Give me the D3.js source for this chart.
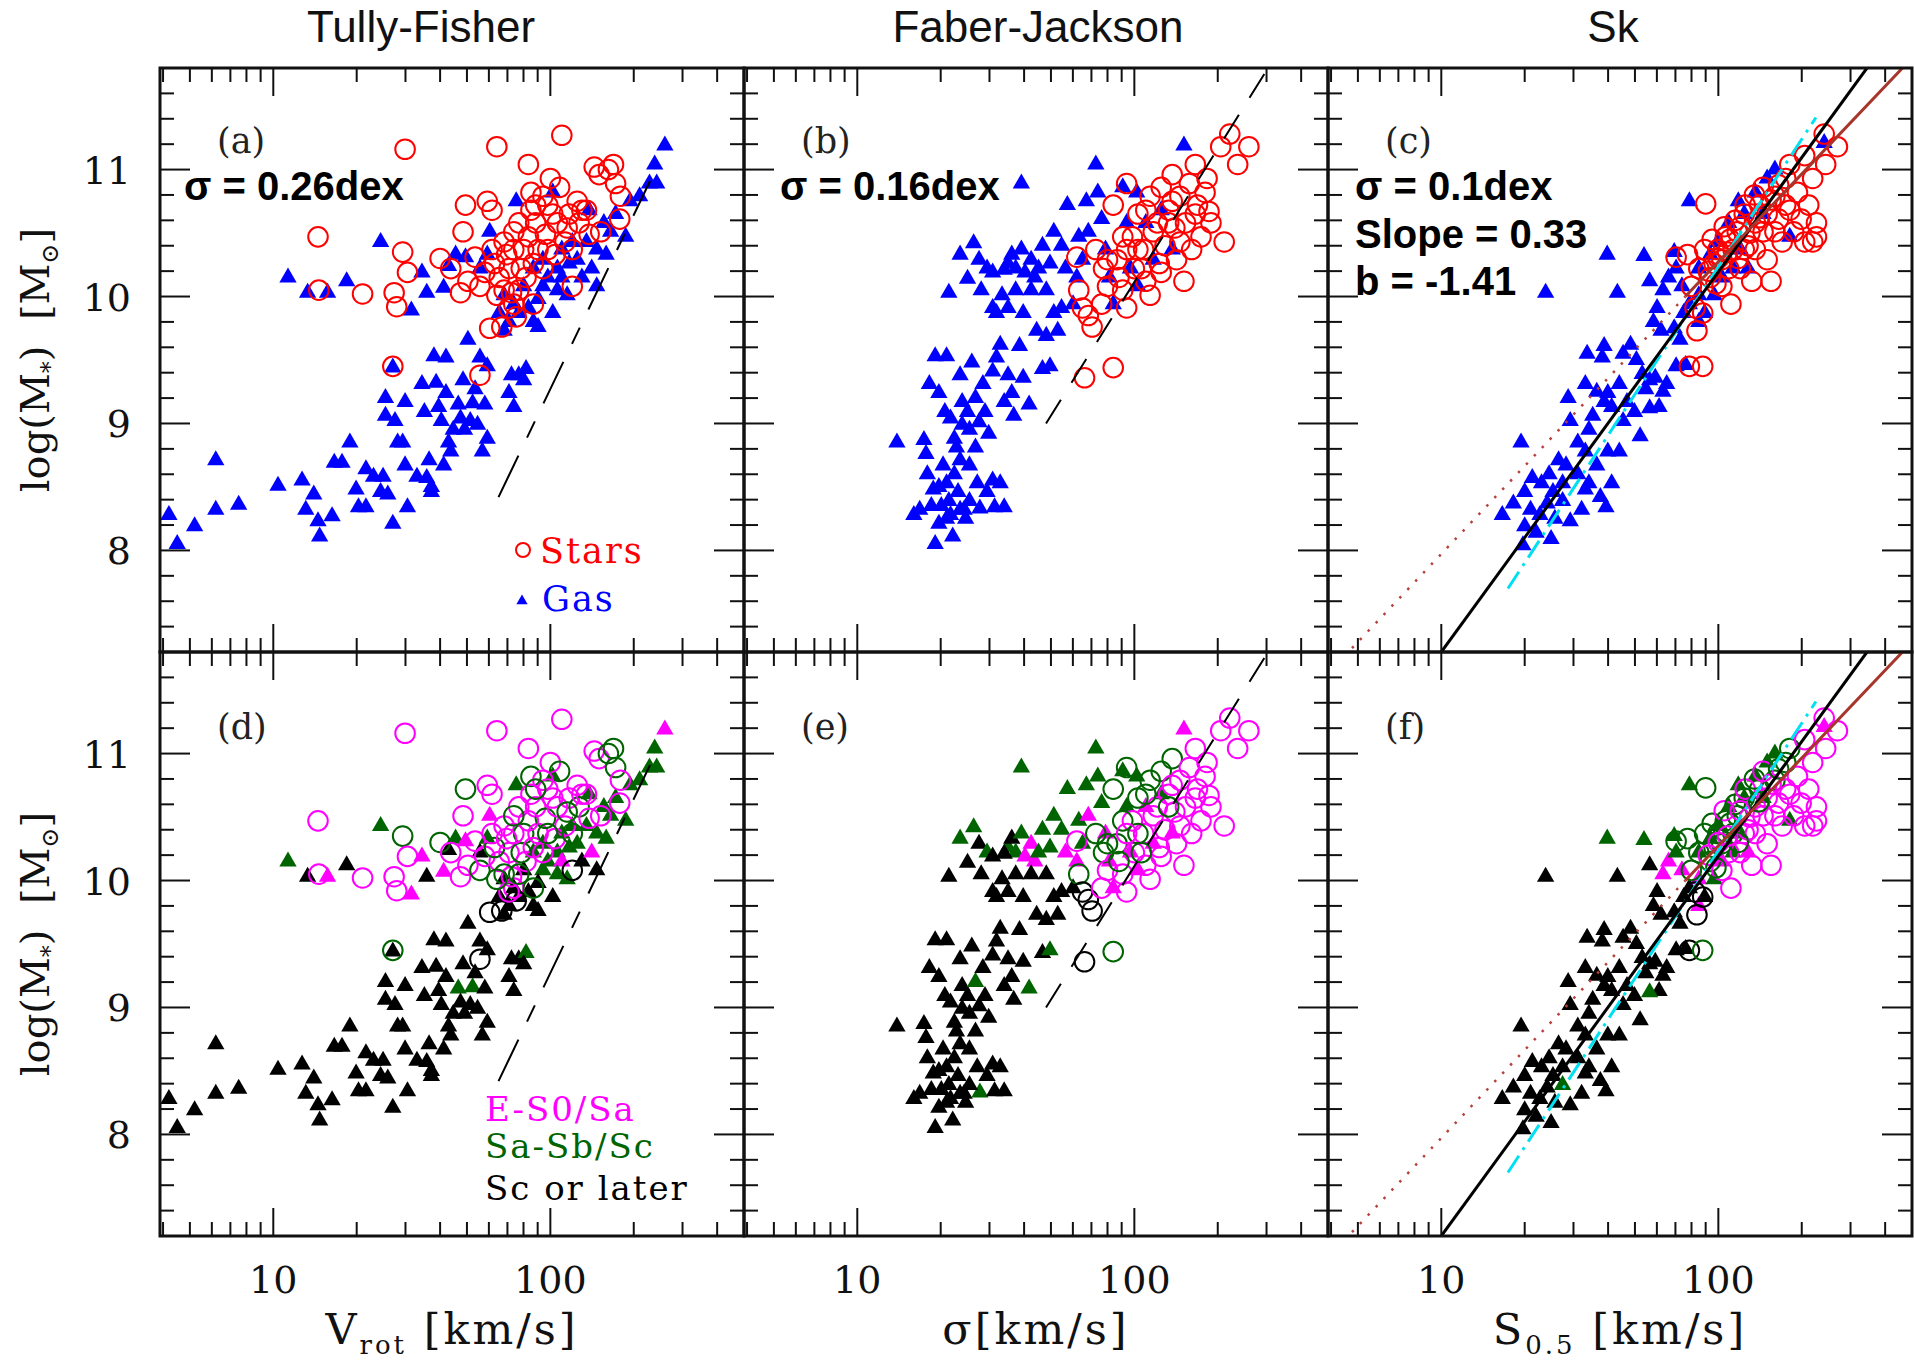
<!DOCTYPE html>
<html>
<head>
<meta charset="utf-8" />
<title>Tully-Fisher, Faber-Jackson, Sk</title>
<script src="https://d3js.org/d3.v7.min.js"></script>
<style>
  body { margin: 0; background: white; }
</style>
</head>
<body>
<svg id="chart" width="1914" height="1366"></svg>
<script>

var columnTitles = ["Tully-Fisher", "Faber-Jackson", "Sk"];
var panelLetters = [["(a)", "(b)", "(c)"], ["(d)", "(e)", "(f)"]];
var yTickLabels = [8, 9, 10, 11];
var xTickLabels = [10, 100];
var statLines = [["σ = 0.26dex"], ["σ = 0.16dex"], ["σ = 0.1dex", "Slope = 0.33", "b = -1.41"]];
var seriesNames = ["Stars", "Gas"];
var typeCodes = ["E", "S", "L"];
var typeNames = ["E-S0/Sa", "Sa-Sb/Sc", "Sc or later"];

// [velocity km/s, log M*, morphological type]
var tfGas = [
  [4.2,8.28,"L"],[4.5,8.05,"L"],[5.2,8.19,"L"],[6.2,8.71,"L"],[6.2,8.32,"L"],[7.5,8.36,"L"],[10.4,8.51,"L"],
  [12.7,8.55,"L"],[13.1,8.32,"L"],[14.0,8.44,"L"],[14.5,8.23,"L"],[14.7,8.11,"L"],[16.3,8.27,"L"],[16.6,8.69,"L"],
  [17.7,8.69,"L"],[18.9,8.85,"L"],[19.9,8.48,"L"],[20.3,8.34,"L"],[21.6,8.34,"L"],[21.6,8.64,"L"],[23.0,8.58,"L"],
  [24.4,8.46,"L"],[24.9,8.58,"L"],[25.9,8.44,"L"],[27.0,8.21,"L"],[25.4,9.20,"L"],[25.4,9.06,"L"],[27.5,9.02,"L"],
  [28.1,8.85,"L"],[29.3,8.85,"L"],[29.9,8.67,"L"],[30.5,8.34,"L"],[29.9,9.17,"L"],[33.0,8.58,"L"],[34.4,9.31,"L"],
  [35.1,9.09,"L"],[35.8,8.57,"L"],[36.5,8.71,"L"],[37.2,8.50,"L"],[37.2,8.46,"L"],[38.0,9.53,"L"],[38.7,9.32,"L"],
  [39.5,9.13,"L"],[40.4,9.02,"L"],[41.2,8.67,"L"],[42.0,9.52,"L"],[42.0,9.24,"L"],[42.9,8.85,"L"],[43.7,8.78,"L"],
  [44.6,8.95,"L"],[46.5,9.15,"S"],[47.4,9.04,"L"],[48.4,9.34,"L"],[49.0,8.95,"L"],[50.4,9.66,"L"],[51.4,9.02,"L"],
  [52.4,9.16,"S"],[53.5,9.27,"L"],[54.6,8.99,"L"],[55.7,9.52,"L"],[56.8,8.78,"L"],[58.0,9.15,"L"],[59.2,8.88,"L"],
  [59.2,9.45,"L"],[70.9,9.24,"L"],[72.4,9.38,"L"],[73.8,9.13,"L"],[76.9,9.38,"L"],[81.7,9.43,"S"],[80.1,9.34,"L"],
  [27.0,9.44,"L"],
  [11.3,10.15,"S"],[13.3,10.03,"L"],[15.7,10.03,"E"],[18.4,10.12,"L"],[24.4,10.43,"S"],[31.5,9.89,"E"],[35.8,10.03,"L"],
  [34.4,10.19,"E"],[41.2,10.07,"E"],[42.9,10.24,"L"],[45.5,10.33,"S"],[49.4,10.31,"E"],[55.7,10.22,"L"],[60.4,10.51,"E"],
  [59.2,10.33,"S"],[65.4,9.87,"L"],[68.1,9.73,"L"],[70.9,9.80,"L"],[75.3,10.75,"S"],[76.9,9.87,"L"],[83.3,9.91,"L"],
  [86.8,9.80,"L"],[90.3,9.76,"L"],[94.0,10.08,"S"],[97.9,10.15,"S"],[102,10.82,"S"],[102,9.87,"L"],[106,10.22,"S"],
  [110,10.15,"E"],[115,10.01,"S"],[117,10.26,"S"],[125,10.29,"S"],[130,10.15,"L"],[135,10.43,"S"],[138,10.68,"S"],
  [141,10.22,"E"],[147,10.08,"L"],[156,10.58,"S"],[159,10.33,"S"],[165,10.51,"S"],[172,10.65,"S"],[187,10.47,"S"],
  [194,10.75,"S"],[210,10.79,"S"],[228,10.89,"S"],[238,11.04,"S"],[242,10.89,"S"],[259,11.19,"E"],[86.8,10.22,"S"],
  [94.0,10.29,"S"],[80.1,10.08,"L"],[110,10.37,"S"],[120,10.43,"S"],[147,10.37,"S"],[68.1,10.01,"L"],[73.8,9.94,"L"],
  [90.3,9.98,"L"],[106,10.05,"S"]
];

var tfStars = [
  [14.5,10.47,"E"],[14.6,10.05,"E"],[21.0,10.02,"E"],[27.3,10.03,"E"],[27.9,9.92,"E"],[29.3,10.35,"S"],[30.5,10.19,"E"],
  [29.9,11.16,"E"],[27.0,9.45,"S"],[55.7,9.38,"L"],[40.0,10.30,"S"],[43.7,10.22,"E"],[48.4,10.51,"E"],[49.4,10.72,"S"],
  [47.4,10.03,"E"],[50.4,10.12,"E"],[53.5,10.31,"E"],[55.7,10.08,"S"],[59.2,10.75,"E"],[61.6,10.68,"E"],[64.1,11.18,"E"],
  [60.4,9.75,"L"],[66.8,9.76,"L"],[68.1,10.43,"E"],[70.9,10.22,"E"],[72.4,10.03,"E"],[73.8,9.94,"E"],[75.3,9.84,"L"],
  [76.9,10.58,"E"],[80.1,10.37,"S"],[81.7,10.15,"E"],[83.3,11.04,"E"],[85.1,10.82,"S"],[86.8,9.94,"S"],[88.5,10.58,"E"],
  [90.3,10.37,"E"],[94.0,10.22,"E"],[96.0,10.49,"S"],[97.9,10.72,"E"],[100,10.93,"E"],[104,10.33,"E"],[106,10.58,"E"],
  [108,10.86,"S"],[110,11.27,"E"],[113,10.43,"E"],[117,10.65,"E"],[120,10.08,"L"],[120,10.37,"S"],[125,10.75,"E"],
  [127,10.58,"S"],[130,10.68,"E"],[135,10.68,"E"],[138,10.49,"E"],[144,11.02,"E"],[150,10.96,"E"],[152,10.51,"E"],
  [162,11.00,"S"],[169,11.04,"S"],[172,10.89,"S"],[178,10.61,"E"],[179,10.79,"E"],[65.4,10.15,"E"],[58.0,10.19,"E"],
  [62.9,10.26,"S"],[69.5,10.33,"E"],[78.5,10.22,"S"],[83.3,10.47,"E"],[86.8,10.26,"E"],[73.8,10.37,"E"],[97.9,10.37,"S"],
  [102,10.65,"E"],[94.0,10.79,"E"],[115,10.54,"S"],[68.1,10.05,"S"],[70.9,9.91,"E"],[76.9,10.05,"S"],[64.1,10.01,"S"],
  [61.6,10.37,"E"],[73.8,10.51,"S"],[85.1,10.68,"E"],[88.5,10.72,"S"]
];

var fjGas = [
  [13.9,8.85,"L"],[17.4,8.87,"L"],[17.7,8.76,"L"],[16.0,8.28,"L"],[17.9,8.60,"L"],[18.8,8.48,"L"],[19.1,8.05,"L"],
  [19.7,8.21,"L"],[20.1,8.35,"L"],[20.4,8.67,"L"],[21.0,8.53,"L"],[21.4,8.39,"L"],[21.7,8.28,"L"],[22.1,8.11,"L"],
  [22.4,8.60,"L"],[22.8,8.81,"L"],[23.1,8.46,"L"],[23.5,8.71,"L"],[24.3,8.32,"L"],[24.6,8.25,"L"],[25.4,8.67,"L"],
  [26.7,8.81,"L"],[27.7,8.33,"S"],[29.4,8.46,"L"],[30.8,8.55,"L"],[31.3,8.34,"L"],[32.8,8.53,"L"],[33.9,8.34,"L"],
  [19.7,8.50,"L"],[18.5,8.35,"L"],[16.8,8.32,"L"],[21.0,8.25,"L"],[23.5,8.32,"L"],[25.4,8.39,"L"],[27.1,8.53,"L"],
  [18.2,9.31,"L"],[19.1,9.53,"L"],[21.0,9.53,"L"],[19.7,9.24,"L"],[20.7,9.09,"L"],[21.7,9.04,"L"],[23.5,9.38,"L"],
  [23.9,9.17,"L"],[25.0,9.09,"L"],[25.9,9.48,"L"],[26.7,9.20,"S"],[27.5,9.01,"L"],[28.4,9.31,"L"],[28.9,9.09,"L"],
  [29.8,8.92,"L"],[30.8,9.41,"L"],[31.8,9.52,"L"],[32.8,9.62,"L"],[35.0,9.38,"L"],[36.7,9.06,"L"],[38.5,9.61,"L"],
  [39.7,9.36,"L"],[41.7,9.15,"S"],[44.4,9.73,"L"],[46.6,9.43,"L"],[48.1,9.69,"L"],[49.6,9.45,"S"],[51.2,9.87,"L"],
  [52.9,9.73,"L"],[54.6,9.91,"L"],[33.9,9.17,"L"],[36.1,9.24,"L"],[25.4,8.95,"L"],[22.4,8.88,"L"],[23.9,8.99,"L"],
  [21.4,10.03,"L"],[23.5,10.33,"S"],[25.0,10.14,"L"],[26.3,10.42,"S"],[27.5,10.29,"L"],[28.0,10.05,"L"],[29.4,10.22,"S"],
  [30.8,10.19,"L"],[31.8,9.87,"L"],[33.3,10.01,"L"],[35.0,10.26,"S"],[36.1,10.33,"L"],[37.3,10.22,"S"],[39.1,10.37,"S"],
  [40.3,10.19,"E"],[42.4,10.29,"E"],[43.7,10.15,"E"],[45.1,10.22,"S"],[46.6,10.40,"S"],[48.1,10.05,"L"],[49.6,10.26,"S"],
  [51.2,10.51,"S"],[54.6,10.40,"S"],[56.4,10.22,"E"],[57.3,10.72,"S"],[60.1,9.94,"L"],[62.0,10.15,"E"],[63.0,10.47,"S"],
  [65.0,10.29,"S"],[67.1,10.75,"S"],[68.2,10.51,"E"],[72.6,11.04,"S"],[73.8,10.82,"S"],[76.2,10.61,"S"],[78.7,10.37,"E"],
  [81.3,10.15,"E"],[83.9,9.94,"E"],[90.8,10.86,"S"],[93.8,10.58,"S"],[96.8,10.22,"E"],[102,10.82,"S"],[103,10.08,"E"],
  [110,10.58,"E"],[117,10.29,"E"],[125,10.68,"S"],[137,10.37,"E"],[151,11.19,"E"],[39.1,10.89,"S"],[35.0,9.91,"L"],
  [39.7,9.87,"L"],[42.4,10.05,"L"],[37.3,10.05,"L"],[30.8,9.91,"L"],[33.9,10.21,"L"]
];

var fjStars = [
  [62.0,10.31,"E"],[63.0,10.05,"S"],[65.0,9.91,"L"],[68.2,9.85,"L"],[70.4,9.76,"L"],[66.1,9.36,"L"],[83.9,9.44,"S"],
  [72.6,10.37,"S"],[77.4,10.22,"S"],[80.0,10.08,"E"],[83.9,10.72,"S"],[86.6,10.29,"S"],[90.8,10.05,"E"],[93.8,9.91,"E"],
  [93.8,10.89,"S"],[98.4,10.47,"E"],[100,10.22,"E"],[103,10.65,"S"],[108,10.37,"E"],[110,10.12,"E"],[114,10.01,"E"],
  [114,10.79,"S"],[117,10.51,"E"],[121,10.58,"E"],[123,10.26,"E"],[125,10.86,"S"],[129,10.40,"E"],[133,10.68,"E"],
  [137,10.96,"S"],[140,10.54,"E"],[142,10.29,"E"],[146,10.79,"E"],[151,10.12,"E"],[153,10.58,"E"],[158,10.89,"E"],
  [161,10.37,"E"],[166,11.04,"E"],[169,10.72,"E"],[174,10.47,"E"],[180,10.82,"E"],[183,10.93,"E"],[186,10.67,"E"],
  [189,10.58,"E"],[205,11.18,"E"],[211,10.43,"E"],[221,11.28,"E"],[236,11.04,"E"],[259,11.18,"E"],[80.0,10.29,"S"],
  [88.0,10.15,"S"],[103,10.37,"S"],[90.8,10.47,"S"],[133,10.58,"S"],[146,10.43,"E"],[110,10.68,"S"],[125,10.19,"E"],
  [166,10.65,"E"],[93.8,10.37,"E"],[106,10.22,"S"],[76.2,9.94,"E"],[137,10.75,"E"]
];

var skGas = [
  [23.8,10.03,"L"],[39.7,10.33,"S"],[53.9,10.32,"S"],[43.2,10.03,"L"],[78.6,10.75,"S"],[118,10.75,"S"],[69.3,10.35,"S"],
  [56.5,10.12,"L"],[63.1,10.05,"E"],[60.1,9.91,"L"],[66.1,10.15,"E"],[70.4,10.22,"S"],[73.9,10.08,"E"],[75.0,9.87,"L"],
  [78.6,9.94,"L"],[85.0,9.80,"E"],[89.2,9.87,"L"],[58.3,9.80,"L"],[62.1,9.73,"L"],[69.3,9.75,"L"],[72.7,9.66,"L"],
  [33.6,9.55,"L"],[38.1,9.52,"L"],[38.7,9.61,"L"],[45.3,9.55,"L"],[48.2,9.62,"L"],[50.6,9.50,"L"],[53.1,9.39,"L"],
  [54.7,9.27,"L"],[56.5,9.34,"L"],[59.2,9.36,"L"],[63.1,9.25,"L"],[65.1,9.31,"L"],[61.1,9.13,"L"],[70.4,9.45,"L"],
  [76.2,9.46,"L"],[33.1,9.31,"L"],[36.4,9.25,"L"],[39.9,9.24,"L"],[43.9,9.31,"L"],[46.8,9.17,"L"],[49.8,9.09,"L"],
  [52.2,8.90,"L"],[45.3,9.02,"L"],[41.2,9.13,"L"],[38.7,9.17,"L"],[35.2,9.06,"L"],[34.1,8.95,"L"],[29.2,9.02,"L"],
  [28.7,9.20,"L"],[31.1,8.85,"L"],[33.1,8.78,"L"],[36.4,8.67,"L"],[39.9,8.78,"L"],[43.9,8.78,"L"],[41.2,8.53,"L"],
  [37.5,8.42,"L"],[39.3,8.34,"L"],[34.1,8.53,"L"],[31.1,8.60,"L"],[28.2,8.67,"L"],[26.5,8.71,"L"],[24.5,8.60,"L"],
  [23.0,8.53,"L"],[21.3,8.57,"L"],[20.0,8.46,"L"],[19.4,8.85,"L"],[18.2,8.37,"L"],[16.6,8.28,"L"],[21.0,8.32,"L"],
  [22.7,8.28,"L"],[24.1,8.37,"L"],[25.3,8.46,"L"],[27.4,8.39,"S"],[29.2,8.23,"L"],[32.1,8.32,"L"],[20.0,8.19,"L"],
  [22.0,8.14,"L"],[24.9,8.09,"L"],[19.7,8.04,"L"],[33.1,8.48,"L"],[27.4,8.53,"L"],[25.7,8.25,"L"],[85.0,10.22,"S"],
  [93.5,10.33,"S"],[99.6,10.43,"S"],[109,10.58,"S"],[124,10.65,"S"],[136,10.82,"S"],[150,10.93,"S"],[160,11.00,"S"],
  [181,10.47,"S"],[241,11.21,"E"],[103,10.15,"E"],[113,10.22,"S"],[120,10.37,"S"],[145,10.65,"S"],[128,10.22,"E"],
  [85.0,10.01,"E"],[96.5,10.01,"S"],[56.5,9.12,"S"]
];

var skStars = [
  [90.0,10.73,"S"],[70.4,10.31,"S"],[77.4,10.33,"S"],[79.9,10.08,"S"],[82.4,9.91,"L"],[83.7,9.73,"L"],[85.0,10.22,"S"],
  [87.8,9.87,"L"],[89.2,10.37,"S"],[93.5,10.15,"S"],[96.5,10.26,"S"],[99.6,10.37,"S"],[103,10.08,"E"],[106,10.47,"S"],
  [109,10.22,"E"],[111,9.94,"E"],[113,10.37,"S"],[117,10.51,"S"],[120,10.22,"E"],[124,10.65,"S"],[128,10.40,"E"],
  [132,10.12,"E"],[136,10.58,"E"],[141,10.72,"S"],[145,10.51,"E"],[150,10.29,"E"],[155,10.12,"E"],[160,10.79,"S"],
  [165,10.61,"E"],[170,10.43,"E"],[175,10.93,"S"],[181,10.68,"E"],[187,10.51,"E"],[193,10.82,"E"],[199,10.61,"E"],
  [205,10.43,"E"],[212,10.72,"E"],[219,10.93,"E"],[226,10.47,"E"],[181,11.04,"S"],[205,11.11,"E"],[241,11.28,"E"],
  [269,11.18,"E"],[244,11.04,"E"],[219,10.43,"E"],[226,10.58,"E"],[78.6,9.45,"L"],[87.8,9.45,"S"],[103,10.29,"S"],
  [124,10.37,"E"],[136,10.37,"E"],[160,10.51,"E"],[150,10.65,"E"],[175,10.72,"E"],
  [95,10.45,"S"],[105,10.55,"E"],[115,10.60,"S"],[125,10.72,"E"],[135,10.80,"S"],[145,10.86,"E"],[100,10.30,"E"],
  [110,10.45,"S"],[120,10.55,"E"],[130,10.50,"E"],[140,10.62,"S"],[155,10.76,"E"],[165,10.88,"S"],[118,10.30,"S"],
  [92,10.20,"E"],[98,10.10,"S"],[108,10.35,"E"]
];

// reference lines [x, log M*]
var tfLine = [[65, 8.42], [229, 10.91]];
var fjLine = [[48, 9.0], [304, 11.8]];
var skFit = [[10, 7.2], [344, 11.8]];
var skBrownDotted = [[4.76, 7.23], [76, 10.0]];
var skBrownSolid = [[76, 10.0], [462, 11.8]];
var skCyan = [[17.4, 7.70], [225, 11.41]];

var panelSize = 584, left0 = 160, top0 = 68;
var seriesColor = {stars: "#ff0000", gas: "#0000ff"};
var typeColor = {E: "#ff00ff", S: "#006400", L: "#000000"};
var serif = "'DejaVu Serif', serif";
var sans = "'Liberation Sans', Arial, sans-serif";

var svg = d3.select("#chart");

var x = d3.scaleLog().domain([3.9, 500]).range([0, panelSize]);
var y = d3.scaleLinear().domain([7.2, 11.8]).range([panelSize, 0]);
var line = d3.line().x(function(d) { return x(d[0]); }).y(function(d) { return y(d[1]); });

var relations = [
  {gas: tfGas, stars: tfStars, lines: [{data: tfLine, dash: "46,20,18,20", color: "#000", w: 2}]},
  {gas: fjGas, stars: fjStars, lines: [{data: fjLine, dash: "28,20", color: "#000", w: 2}]},
  {gas: skGas, stars: skStars, lines: [
    {data: skBrownDotted, dash: "2.5,9", color: "#b5423a", w: 2.5},
    {data: skCyan, dash: "20,7,3,7", color: "#00e0f0", w: 3},
    {data: skFit, dash: null, color: "#000", w: 3},
    {data: skBrownSolid, dash: null, color: "#a8352c", w: 3}
  ]}
];

var tri = d3.symbol().type(d3.symbolTriangle).size(130);

// column titles
columnTitles.forEach(function(t, i) {
  var cx = [421, 1038, 1613][i];
  svg.append("text").attr("x", cx).attr("y", 42).attr("text-anchor", "middle")
    .attr("font-family", sans).attr("font-size", 44).attr("fill", "#111").text(t);
});

// minor tick values
var minorX = [];
[1, 10, 100].forEach(function(dec) {
  for (var k = 2; k <= 9; k++) {
    var v = dec * k;
    if (v > 3.9 && v < 500) minorX.push(v);
  }
});
var yTicks = d3.range(7.4, 11.7, 0.2);

[0, 1].forEach(function(row) {
  relations.forEach(function(rel, col) {
    var g = svg.append("g")
      .attr("transform", "translate(" + (left0 + col * panelSize) + "," + (top0 + row * panelSize) + ")");
    var clipId = "clip" + row + col;
    g.append("clipPath").attr("id", clipId).append("rect")
      .attr("width", panelSize).attr("height", panelSize);
    var plot = g.append("g").attr("clip-path", "url(#" + clipId + ")");

    // gas triangles
    plot.selectAll("path.gas").data(rel.gas).enter().append("path")
      .attr("class", "gas")
      .attr("d", tri)
      .attr("transform", function(d) { return "translate(" + x(d[0]) + "," + y(d[1]) + ")"; })
      .attr("fill", function(d) { return row === 0 ? seriesColor.gas : typeColor[d[2]]; });

    // stellar circles
    plot.selectAll("circle.star").data(rel.stars).enter().append("circle")
      .attr("class", "star")
      .attr("cx", function(d) { return x(d[0]); })
      .attr("cy", function(d) { return y(d[1]); })
      .attr("r", 9.8)
      .attr("fill", "none")
      .attr("stroke-width", 2)
      .attr("stroke", function(d) { return row === 0 ? seriesColor.stars : typeColor[d[2]]; });

    // fit / reference lines
    rel.lines.forEach(function(l) {
      plot.append("path").attr("d", line(l.data))
        .attr("fill", "none").attr("stroke", l.color).attr("stroke-width", l.w)
        .attr("stroke-dasharray", l.dash);
    });

    // ticks on all four sides
    var ticks = g.append("g").attr("stroke", "#111").attr("stroke-width", 2);
    var xt = minorX.map(function(v) { return [v, 14]; }).concat(xTickLabels.map(function(v) { return [v, 28]; }));
    xt.forEach(function(t) {
      var px = x(t[0]);
      ticks.append("line").attr("x1", px).attr("x2", px).attr("y1", panelSize).attr("y2", panelSize - t[1]);
      ticks.append("line").attr("x1", px).attr("x2", px).attr("y1", 0).attr("y2", t[1]);
    });
    yTicks.forEach(function(v) {
      var major = Math.abs(v - Math.round(v)) < 0.01;
      var len = major ? 30 : 14;
      var py = y(v);
      ticks.append("line").attr("x1", 0).attr("x2", len).attr("y1", py).attr("y2", py);
      ticks.append("line").attr("x1", panelSize).attr("x2", panelSize - len).attr("y1", py).attr("y2", py);
    });

    g.append("rect").attr("width", panelSize).attr("height", panelSize)
      .attr("fill", "none").attr("stroke", "#111").attr("stroke-width", 3);

    // panel letter
    g.append("text").attr("x", 57).attr("y", row === 0 ? 85 : 87)
      .attr("font-family", serif).attr("font-size", 35).attr("fill", "#222")
      .text(panelLetters[row][col]);

    // stats text on top row
    if (row === 0) {
      statLines[col].forEach(function(s, i) {
        g.append("text").attr("x", [24, 36, 27][col]).attr("y", 132 + i * 47.5)
          .attr("font-family", sans).attr("font-weight", "bold").attr("font-size", 40)
          .attr("fill", "#000").text(s);
      });
    }

    // y tick labels
    if (col === 0) {
      yTickLabels.forEach(function(v) {
        g.append("text").attr("x", -29).attr("y", y(v) + 14).attr("text-anchor", "end")
          .attr("font-family", serif).attr("font-size", 38).attr("fill", "#111").text(v);
      });
      var yl = g.append("text")
        .attr("transform", "translate(-111," + (panelSize / 2) + ") rotate(-90)")
        .attr("text-anchor", "middle").attr("font-family", serif).attr("font-size", 40)
        .attr("fill", "#111").attr("xml:space", "preserve");
      yl.append("tspan").text("log(M");
      yl.append("tspan").attr("dy", 9).attr("font-size", 24).text("*");
      yl.append("tspan").attr("dy", -9).text(")  [M");
      yl.append("tspan").attr("dy", 9).attr("font-size", 24).text("⊙");
      yl.append("tspan").attr("dy", -9).text("]");
    }

    // x tick labels and titles
    if (row === 1) {
      xTickLabels.forEach(function(v) {
        g.append("text").attr("x", x(v)).attr("y", 641).attr("text-anchor", "middle")
          .attr("font-family", serif).attr("font-size", 38).attr("fill", "#111").text(v);
      });
      var xl = g.append("text").attr("x", panelSize / 2).attr("y", 692)
        .attr("text-anchor", "middle").attr("font-family", serif).attr("font-size", 43)
        .attr("letter-spacing", 3).attr("fill", "#111").attr("xml:space", "preserve");
      if (col === 0) {
        xl.append("tspan").text("V");
        xl.append("tspan").attr("dy", 10).attr("font-size", 26).text("rot");
        xl.append("tspan").attr("dy", -10).text(" [km/s]");
      } else if (col === 1) {
        xl.append("tspan").text("σ[km/s]");
      } else {
        xl.append("tspan").text("S");
        xl.append("tspan").attr("dy", 10).attr("font-size", 26).text("0.5");
        xl.append("tspan").attr("dy", -10).text(" [km/s]");
      }
    }

    // legends
    if (row === 0 && col === 0) {
      g.append("circle").attr("cx", 363).attr("cy", 482).attr("r", 7)
        .attr("fill", "none").attr("stroke", seriesColor.stars).attr("stroke-width", 2);
      g.append("text").attr("x", 380).attr("y", 495).attr("font-family", serif).attr("font-size", 35)
        .attr("letter-spacing", 2).attr("fill", seriesColor.stars).text(seriesNames[0]);
      g.append("path").attr("d", d3.symbol().type(d3.symbolTriangle).size(55))
        .attr("transform", "translate(362,533)").attr("fill", seriesColor.gas);
      g.append("text").attr("x", 382).attr("y", 543).attr("font-family", serif).attr("font-size", 35)
        .attr("letter-spacing", 2).attr("fill", seriesColor.gas).text(seriesNames[1]);
    }
    if (row === 1 && col === 0) {
      typeCodes.forEach(function(c, i) {
        g.append("text").attr("x", 325).attr("y", [469, 506, 548][i])
          .attr("font-family", serif).attr("font-size", 34).attr("letter-spacing", 2)
          .attr("xml:space", "preserve").attr("fill", typeColor[c]).text(typeNames[i]);
      });
    }
  });
});

</script>
</body>
</html>
